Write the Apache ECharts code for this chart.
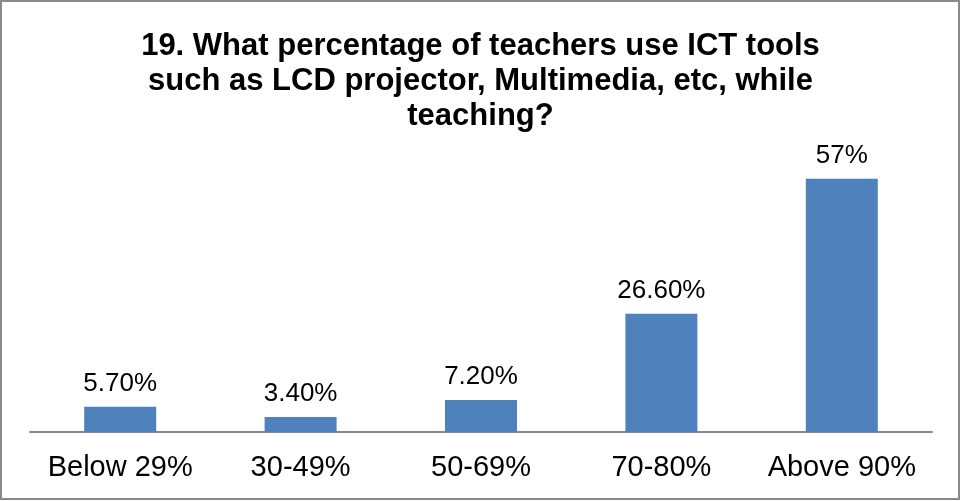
<!DOCTYPE html>
<html>
<head>
<meta charset="utf-8">
<script src="https://cdn.jsdelivr.net/npm/echarts@6/dist/echarts.min.js"></script>
<style>
html, body { margin: 0; padding: 0; background: #fff; }
#chart { width: 961px; height: 501px; }
</style>
</head>
<body>
<div id="chart"></div>
<script>
var categories = ['Below 29%', '30-49%', '50-69%', '70-80%', 'Above 90%'];
var values = [5.7, 3.4, 7.2, 26.6, 57];
var valueLabels = ['5.70%', '3.40%', '7.20%', '26.60%', '57%'];

var font = '"Liberation Sans", Arial, sans-serif';
var chart = echarts.init(document.getElementById('chart'));

chart.setOption({
	backgroundColor: '#fff',
	animation: false,
	title: {
		text: '19. What percentage of teachers use ICT tools\nsuch as LCD projector, Multimedia, etc, while\nteaching?',
		left: 'center',
		top: 24,
		textStyle: {
			fontFamily: font,
			fontSize: 31,
			fontWeight: 'bold',
			color: '#000',
			lineHeight: 35
		}
	},
	graphic: [{
		type: 'rect',
		shape: { x: 1, y: 1, width: 958, height: 498 },
		style: { fill: 'none', stroke: '#898989', lineWidth: 2 },
		silent: true
	}],
	grid: { left: 30, right: 29, top: 121, bottom: 69 },
	xAxis: {
		type: 'category',
		data: categories,
		axisLine: { lineStyle: { color: '#898989', width: 2 } },
		axisTick: { show: false },
		axisLabel: {
			fontFamily: font,
			fontSize: 29,
			color: '#000',
			margin: 21,
			interval: 0
		}
	},
	yAxis: {
		type: 'value',
		min: 0,
		max: 70,
		show: false,
		splitLine: { show: false }
	},
	series: [{
		type: 'bar',
		data: values,
		barWidth: 72,
		itemStyle: { color: '#4F81BD' },
		label: {
			show: true,
			position: 'top',
			distance: 10,
			fontFamily: font,
			fontSize: 26,
			color: '#000',
			formatter: function(p) {
				return valueLabels[p.dataIndex];
			}
		}
	}]
});
</script>
</body>
</html>
